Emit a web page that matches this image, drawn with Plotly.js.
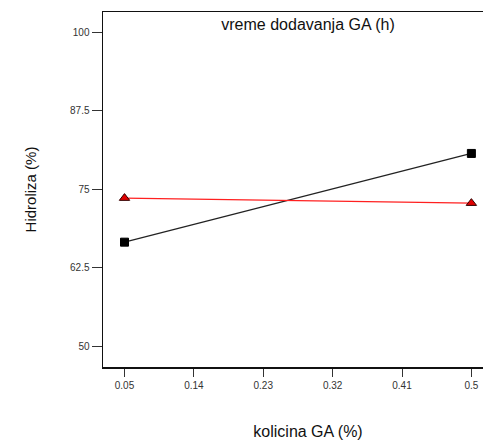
<!DOCTYPE html>
<html><head><meta charset="utf-8">
<script src="https://cdn.plot.ly/plotly-3.0.1.min.js"></script>
<style>html,body{margin:0;padding:0;overflow:hidden;background:#fff;width:483px;height:444px}</style>
</head><body>
<div id="chart"></div>
<script>
const xValues = [0.05, 0.5];
const seriesBlack = [66.6, 80.7];
const seriesRed = [73.6, 72.8];
const xTicks = [0.05, 0.14, 0.23, 0.32, 0.41, 0.5];
const xTickLabels = ['0.05', '0.14', '0.23', '0.32', '0.41', '0.5'];
const yTicks = [50, 62.5, 75, 87.5, 100];
const yTickLabels = ['50', '62.5', '75', '87.5', '100'];

const traces = [
  {x: xValues, y: seriesBlack, mode: 'lines+markers', type: 'scatter',
   line: {color: '#222', width: 1.2},
   marker: {symbol: 'square', size: 8, color: '#000', line: {color: '#000', width: 1}}},
  {x: xValues, y: seriesRed, mode: 'lines+markers', type: 'scatter',
   line: {color: '#ff2020', width: 1.2},
   marker: {symbol: 'triangle-up', size: 9, color: '#e00000', line: {color: '#300', width: 1}}}
];

const layout = {
  width: 520, height: 444,
  margin: {l: 103, r: 7, t: 12, b: 77},
  paper_bgcolor: '#fff', plot_bgcolor: '#fff',
  showlegend: false,
  font: {family: 'Liberation Sans, Arial, sans-serif', color: '#222'},
  title: {text: 'vreme dodavanja GA (h)', font: {size: 16, color: '#111'},
          x: 0.5, xref: 'paper', y: 0.958, yref: 'container', yanchor: 'top', pad: {t: 0}},
  xaxis: {range: [0.0221, 0.554], tickvals: xTicks, ticktext: xTickLabels,
          showgrid: false, zeroline: false, showline: true, linecolor: '#111', linewidth: 1.5,
          mirror: true, ticks: 'outside', ticklen: 8, tickcolor: '#333', tickwidth: 1,
          tickfont: {size: 10, color: '#333'},
          title: {text: 'kolicina GA (%)', font: {size: 16, color: '#111'}, standoff: 36}},
  yaxis: {range: [46.76, 103.18], tickvals: yTicks, ticktext: yTickLabels,
          showgrid: false, zeroline: false, showline: true, linecolor: '#111', linewidth: 1.5,
          mirror: true, ticks: 'outside', ticklen: 10, tickcolor: '#333', tickwidth: 1,
          tickfont: {size: 10, color: '#333'},
          title: {text: 'Hidroliza (%)', font: {size: 15, color: '#111'}, standoff: 30}}
};

Plotly.newPlot('chart', traces, layout, {displayModeBar: false, staticPlot: true});
</script>
</body></html>
